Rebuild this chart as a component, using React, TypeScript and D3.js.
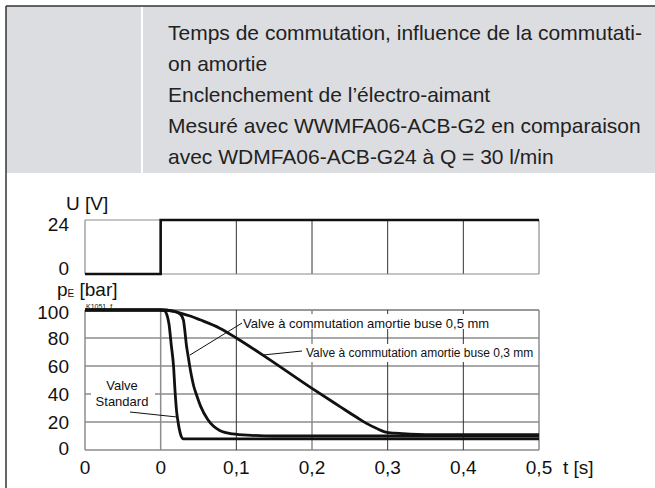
import React from "react";
import * as d3 from "d3";

// header text
const headerLines = [
  "Temps de commutation, influence de la commutati-",
  "on amortie",
  "Enclenchement de l’électro-aimant",
  "Mesuré avec WWMFA06-ACB-G2 en comparaison",
  "avec WDMFA06-ACB-G24 à Q = 30 l/min",
];

// x axis ticks (first column is the time before switching)
const tickTimes = [-0.1, 0, 0.1, 0.2, 0.3, 0.4, 0.5];
const tickLabels = ["0", "0", "0,1", "0,2", "0,3", "0,4", "0,5"];
const pressureTicks = [0, 20, 40, 60, 80, 100];
const voltageTicks = [0, 24];

// voltage step
const voltT = [-0.1, 0, 0, 0.5];
const voltU = [0, 0, 24, 24];

// standard valve
const stdT = [-0.1, 0, 0.005, 0.008, 0.011, 0.014, 0.017, 0.019, 0.021, 0.023, 0.025, 0.027, 0.03, 0.5];
const stdP = [100, 100, 99.5, 97, 90, 75, 60, 42, 28, 20, 14, 10, 8, 8];

// damped valve, nozzle 0.3 mm
const d03T = [-0.1, 0, 0.018, 0.026, 0.03, 0.032, 0.034, 0.036, 0.04, 0.044, 0.047, 0.053, 0.062, 0.078, 0.095, 0.12, 0.15, 0.5];
const d03P = [100, 100, 99, 97, 93, 85, 75, 68, 55, 45, 40, 31, 22, 14, 11.5, 10.5, 10, 10];

// damped valve, nozzle 0.5 mm
const d05T = [-0.1, 0, 0.005, 0.015, 0.025, 0.04, 0.052, 0.078, 0.1, 0.14, 0.2, 0.237, 0.26, 0.272, 0.285, 0.296, 0.31, 0.35, 0.5];
const d05P = [100, 100, 100, 99.3, 98, 95.5, 93, 87, 80, 66, 44, 31, 23, 19, 15.5, 13, 12, 11, 11];

const GRID = "#8c8c8c";
const DARK = "#333";
const FONT = "'Liberation Sans', Arial, sans-serif";

const App = () => {
  const x = d3.scaleLinear().domain([-0.1, 0.5]).range([85, 539]);
  const yU = d3.scaleLinear().domain([0, 24]).range([274, 220]);
  const yP = d3.scaleLinear().domain([0, 100]).range([450, 310]);

  const stepLine = d3
    .line<number>()
    .x((d, i) => x(voltT[i]))
    .y((d) => yU(d));

  const pLine = (ts: number[]) =>
    d3
      .line<number>()
      .x((d, i) => x(ts[i]))
      .y((d) => yP(d))
      .curve(d3.curveMonotoneX);

  const darkCols = [0.1, 0.3, 0.4];

  return (
    <div style={{ position: "absolute", left: 0, top: 0 }}>
      <svg width={655} height={488} style={{ display: "block" }}>
        <rect x={0} y={0} width={655} height={488} fill="#fff" />
        {/* header */}
        <rect x={6} y={6} width={649} height={167} fill="#dcdde0" />
        <rect x={141} y={6} width={2} height={167} fill="#fff" />
        <line x1={6} x2={655} y1={6} y2={6} stroke={DARK} strokeWidth={1.5} />
        <line x1={6} x2={6} y1={6} y2={488} stroke={DARK} strokeWidth={1.5} />
        {headerLines.map((t, i) => (
          <text key={i} x={168} y={40 + i * 31} fontFamily={FONT} fontSize={21} fill="#222">
            {t}
          </text>
        ))}

        {/* voltage panel */}
        <g>
          {tickTimes.slice(2, 6).map((t) => (
            <line key={t} x1={x(t)} x2={x(t)} y1={yU(24)} y2={yU(0)} stroke={DARK} strokeWidth={1} />
          ))}
          <line x1={x(-0.1)} x2={x(-0.1)} y1={yU(24)} y2={yU(0)} stroke={GRID} strokeWidth={1.2} />
          <line x1={x(0.5)} x2={x(0.5)} y1={yU(24)} y2={yU(0)} stroke={GRID} strokeWidth={1.2} />
          <line x1={x(-0.1)} x2={x(0.5)} y1={yU(24)} y2={yU(24)} stroke={GRID} strokeWidth={1.2} />
          <line x1={x(-0.1)} x2={x(0.5)} y1={yU(0)} y2={yU(0)} stroke={GRID} strokeWidth={1.2} />
          <path d={stepLine(voltU) || ""} fill="none" stroke="#111" strokeWidth={2.6} />
          {voltageTicks.map((v) => (
            <text key={v} x={69} y={yU(v) + (v === 0 ? -6 : 4)} textAnchor="end" dominantBaseline="central" fontFamily={FONT} fontSize={19} fill="#111">
              {v}
            </text>
          ))}
          <text x={66} y={203} dominantBaseline="central" fontFamily={FONT} fontSize={19} fill="#111">
            U [V]
          </text>
        </g>

        {/* pressure panel */}
        <g>
          {pressureTicks.slice(0, 5).map((v) => (
            <line key={v} x1={x(-0.1)} x2={x(0.5)} y1={yP(v)} y2={yP(v)} stroke={GRID} strokeWidth={1.5} />
          ))}
          <line x1={x(-0.1)} x2={x(0.5)} y1={yP(100)} y2={yP(100)} stroke={DARK} strokeWidth={1} />
          {tickTimes.map((t) => (
            <line
              key={t}
              x1={x(t)}
              x2={x(t)}
              y1={yP(100)}
              y2={yP(0)}
              stroke={darkCols.includes(t) ? DARK : GRID}
              strokeWidth={darkCols.includes(t) ? 1 : 1.5}
            />
          ))}

          {/* label backgrounds */}
          <rect x={241} y={314} width={256} height={15} fill="#fff" />
          <rect x={304} y={344} width={230} height={18} fill="#fff" />
          <rect x={91} y={377} width={64} height={32} fill="#fff" />

          <path d={pLine(stdT)(stdP) || ""} fill="none" stroke="#111" strokeWidth={2.8} />
          <path d={pLine(d03T)(d03P) || ""} fill="none" stroke="#111" strokeWidth={2.8} />
          <path d={pLine(d05T)(d05P) || ""} fill="none" stroke="#111" strokeWidth={2.8} />

          {/* leaders */}
          <line x1={242} y1={323} x2={190} y2={355} stroke="#111" strokeWidth={1} />
          <line x1={302} y1={351} x2={263} y2={355} stroke="#111" strokeWidth={1} />
          <line x1={130} y1={412} x2={177} y2={417} stroke="#111" strokeWidth={1} />

          <text x={243} y={323} dominantBaseline="central" fontFamily={FONT} fontSize={13} fill="#111">
            Valve à commutation amortie buse 0,5 mm
          </text>
          <text x={306} y={353} dominantBaseline="central" fontFamily={FONT} fontSize={12} fill="#111">
            Valve à commutation amortie buse 0,3 mm
          </text>
          <text x={122} y={385} textAnchor="middle" dominantBaseline="central" fontFamily={FONT} fontSize={13} fill="#111">
            Valve
          </text>
          <text x={122} y={401} textAnchor="middle" dominantBaseline="central" fontFamily={FONT} fontSize={13} fill="#111">
            Standard
          </text>

          <text x={86} y={309} fontFamily={FONT} fontSize={7} fill="#111">
            K1051_f
          </text>

          {pressureTicks.map((v) => (
            <text
              key={v}
              x={69}
              y={yP(v) + (v === 100 ? 2 : v === 0 ? -2 : 0)}
              textAnchor="end"
              dominantBaseline="central"
              fontFamily={FONT}
              fontSize={19}
              fill="#111"
            >
              {v}
            </text>
          ))}
          <text x={57} y={289} dominantBaseline="central" fontFamily={FONT} fontSize={19} fill="#111">
            p<tspan fontSize={10} dy={4}>E</tspan>
            <tspan dy={-4}> [bar]</tspan>
          </text>

          {tickTimes.map((t, i) => (
            <text key={t} x={x(t)} y={467} textAnchor="middle" dominantBaseline="central" fontFamily={FONT} fontSize={19} fill="#111">
              {tickLabels[i]}
            </text>
          ))}
          <text x={563} y={467} dominantBaseline="central" fontFamily={FONT} fontSize={19} fill="#111">
            t [s]
          </text>
        </g>
      </svg>
    </div>
  );
};

export default App;
